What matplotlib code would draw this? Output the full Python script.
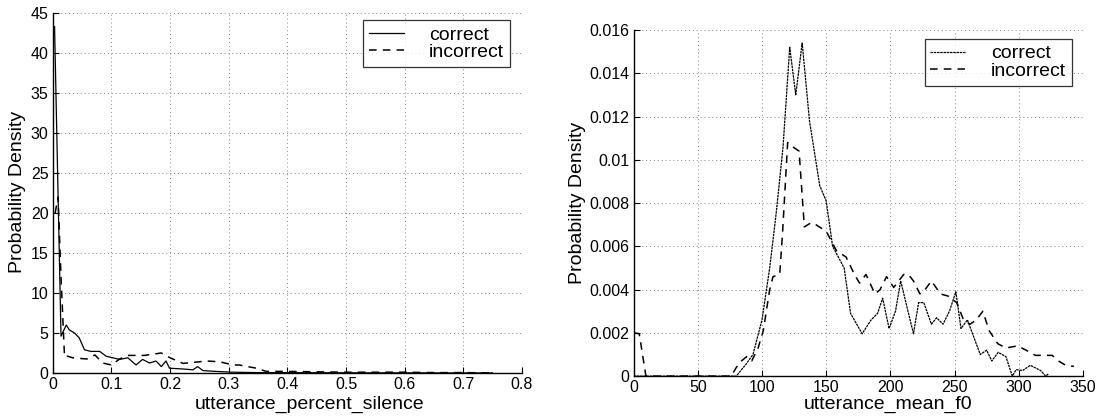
import matplotlib
matplotlib.use("Agg")
import matplotlib.pyplot as plt

plt.rcParams['font.family'] = ['Liberation Sans', 'DejaVu Sans']

# Left panel: utterance_percent_silence
sil_correct_x = [0.003, 0.014, 0.023, 0.028, 0.037, 0.045, 0.054, 0.065, 0.080, 0.091, 0.102, 0.114,
                 0.128, 0.142, 0.153, 0.165, 0.176, 0.185, 0.193, 0.199, 0.222, 0.239, 0.247, 0.256,
                 0.278, 0.307, 0.35, 0.40, 0.45, 0.50, 0.55, 0.60, 0.65, 0.70, 0.75]
sil_correct_y = [43.3, 4.6, 6.0, 5.4, 5.0, 4.4, 2.9, 2.7, 2.7, 2.1, 1.9, 1.7,
                 1.9, 1.0, 1.7, 1.25, 1.5, 0.8, 1.5, 0.6, 0.5, 0.4, 0.8, 0.3,
                 0.2, 0.1, 0.05, 0.05, 0.03, 0.03, 0.02, 0.02, 0.01, 0.01, 0.01]
sil_incorrect_x = [0.004, 0.009, 0.014, 0.020, 0.025, 0.034, 0.058, 0.072, 0.085, 0.100, 0.114,
                   0.128, 0.156, 0.185, 0.200, 0.222, 0.263, 0.285, 0.307, 0.318, 0.347, 0.364,
                   0.40, 0.45, 0.50, 0.55, 0.60, 0.65, 0.70, 0.75]
sil_incorrect_y = [20.0, 22.0, 12.0, 2.0, 2.1, 1.9, 1.75, 2.25, 1.25, 1.0, 1.75,
                   2.2, 2.2, 2.5, 1.9, 1.2, 1.5, 1.4, 1.0, 1.0, 0.6, 0.2,
                   0.2, 0.15, 0.1, 0.1, 0.1, 0.05, 0.05, 0.02]

# Right panel: utterance_mean_f0
f0_correct_x = [0, 80, 87.8, 93, 100, 106, 111, 116.4, 121.6, 126.3, 131.3, 137, 145, 150, 155,
                164, 169, 178, 185, 190, 194, 199, 204, 208, 218, 222, 226, 232, 236, 241, 246,
                251, 255, 260, 265, 270, 275, 279, 284, 290, 295, 298, 303, 309, 317, 321, 323]
f0_correct_y = [0, 0, 0.00057, 0.001, 0.0026, 0.005, 0.0075, 0.0106, 0.0152, 0.013, 0.0154, 0.0118,
                0.0088, 0.0081, 0.006, 0.005, 0.0029, 0.00196, 0.0026, 0.0029, 0.0036, 0.0022,
                0.003, 0.0044, 0.00196, 0.0034, 0.0034, 0.0024, 0.0027, 0.0024, 0.003, 0.0039,
                0.0022, 0.0026, 0.0018, 0.001, 0.0012, 0.0007, 0.0011, 0.0009, 0.0, 0.0003,
                0.00026, 0.0005, 0.00026, 0.0, 0.0001]
f0_incorrect_x = [0.5, 4.4, 9.6, 76, 80, 84, 88, 92, 97, 101, 106, 108.6, 113.8, 116, 120, 124,
                  128.9, 133, 138.5, 142, 150, 158, 165.6, 172, 176, 181, 188, 192, 197, 202.6,
                  210.4, 214, 218, 223, 227, 232, 239, 245, 251.6, 257, 262, 267, 272, 277,
                  283.6, 290, 299, 305.7, 313, 326, 331, 336.6, 343]
f0_incorrect_y = [0.002, 0.00196, 0.0, 0.0, 0.0004, 0.0007, 0.0009, 0.0007, 0.0013, 0.0021, 0.004,
                  0.0046, 0.0047, 0.0066, 0.0108, 0.0106, 0.0104, 0.0069, 0.0071, 0.007, 0.0067,
                  0.0058, 0.0055, 0.0047, 0.0043, 0.0047, 0.0038, 0.004, 0.0046, 0.0041, 0.0047,
                  0.0047, 0.0044, 0.0038, 0.004, 0.0044, 0.0038, 0.0037, 0.0034, 0.0026, 0.0024,
                  0.0026, 0.003, 0.0021, 0.0015, 0.0013, 0.0014, 0.0012, 0.00096, 0.00096,
                  0.0007, 0.0005, 0.00045]

sil_xticks = [0, 0.1, 0.2, 0.3, 0.4, 0.5, 0.6, 0.7, 0.8]
sil_xticklabels = ['0', '0.1', '0.2', '0.3', '0.4', '0.5', '0.6', '0.7', '0.8']
sil_yticks = [0, 5, 10, 15, 20, 25, 30, 35, 40, 45]
f0_xticks = [0, 50, 100, 150, 200, 250, 300, 350]
f0_yticks = [0, 0.002, 0.004, 0.006, 0.008, 0.01, 0.012, 0.014, 0.016]
f0_yticklabels = ['0', '0.002', '0.004', '0.006', '0.008', '0.01', '0.012', '0.014', '0.016']

fig = plt.figure(figsize=(11, 4.17), dpi=100)
ax1 = fig.add_axes([0.048, 0.1055, 0.4265, 0.8635])
ax2 = fig.add_axes([0.576, 0.098, 0.4085, 0.830])

TFS = 11.5
LFS = 14

def style(ax):
    ax.spines['top'].set_visible(False)
    ax.spines['right'].set_visible(False)
    for s in ('left', 'bottom'):
        ax.spines[s].set_linewidth(1.0)
        ax.spines[s].set_color('black')
    ax.grid(True, linestyle=(0, (1, 3)), color='#888888', linewidth=0.7)
    ax.set_axisbelow(True)
    ax.tick_params(direction='in', length=4, labelsize=TFS, colors='black', width=0.8, pad=3)

def legend(ax, anchor):
    leg = ax.legend(loc='upper right', bbox_to_anchor=anchor, borderaxespad=0,
                    fontsize=LFS, frameon=True, fancybox=False, handlelength=1.8,
                    handletextpad=1.3, labelspacing=0.0, borderpad=0.3)
    leg.get_frame().set_edgecolor('black')
    leg.get_frame().set_linewidth(0.9)
    return leg

ax1.plot(sil_correct_x, sil_correct_y, color='black', linestyle='-', linewidth=0.9, label='correct')
ax1.plot(sil_incorrect_x, sil_incorrect_y, color='black', linestyle=(0, (5, 4)), linewidth=1.1, label='incorrect')
ax1.set_xlim(0, 0.8)
ax1.set_ylim(0, 45)
ax1.set_xticks(sil_xticks)
ax1.set_xticklabels(sil_xticklabels)
ax1.set_yticks(sil_yticks)
style(ax1)
ax1.set_xlabel('utterance_percent_silence', fontsize=LFS)
ax1.set_ylabel('Probability Density', fontsize=LFS)
ax1.xaxis.set_label_coords(0.547, -0.062)
ax1.yaxis.set_label_coords(-0.058, 0.503)
legend(ax1, (0.974, 0.98))

ax2.plot(f0_correct_x, f0_correct_y, color='black', linestyle=(0, (2, 0.6)), linewidth=0.9, label='correct')
ax2.plot(f0_incorrect_x, f0_incorrect_y, color='black', linestyle=(0, (5, 4)), linewidth=1.1, label='incorrect')
ax2.set_xlim(0, 350)
ax2.set_ylim(0, 0.016)
ax2.set_xticks(f0_xticks)
ax2.set_yticks(f0_yticks)
ax2.set_yticklabels(f0_yticklabels)
style(ax2)
ax2.set_xlabel('utterance_mean_f0', fontsize=LFS)
ax2.set_ylabel('Probability Density', fontsize=LFS)
ax2.xaxis.set_label_coords(0.567, -0.057)
ax2.yaxis.set_label_coords(-0.105, 0.5)
legend(ax2, (0.975, 0.974))

fig.savefig('out.png', dpi=100)
